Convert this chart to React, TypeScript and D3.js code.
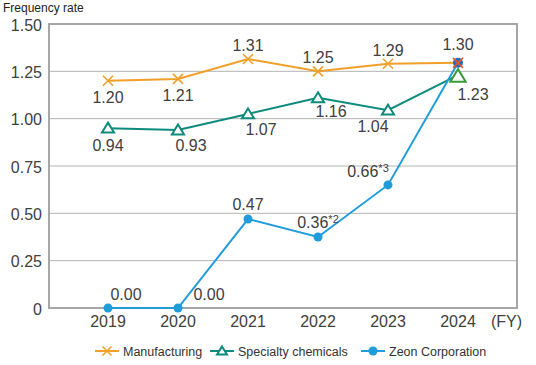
import { useEffect, useRef } from "react"
import * as d3 from "d3"

const years = ["2019", "2020", "2021", "2022", "2023", "2024"]
const yTicks = [0, 0.25, 0.5, 0.75, 1.0, 1.25, 1.5]

const manufacturing = [1.2, 1.21, 1.315, 1.25, 1.29, 1.295]
const manufacturingLabels = ["1.20", "1.21", "1.31", "1.25", "1.29", "1.30"]

const specialty = [0.95, 0.94, 1.025, 1.11, 1.045, 1.23]
const specialtyLabels = ["0.94", "0.93", "1.07", "1.16", "1.04", "1.23"]

const zeon = [0, 0, 0.47, 0.375, 0.65, 1.295]
const zeonLabels = ["0.00", "0.00", "0.47", "0.36", "0.66", ""]
const zeonNotes = ["", "", "", "*2", "*3", ""]

// label offsets relative to the point (dx, dy to baseline)
const manuOffsets = [[0, 22], [0, 22], [0, -8], [0, -8], [0, -8], [0, -13]]
const specOffsets = [[0, 23], [13, 21], [13, 21], [13, 19], [-15, 22], [15, 25]]
const zeonOffsets = [[18, -8], [31, -8], [0, -9], [0, -9], [-20, -8], [0, 0]]

const ORANGE = "#f0a02a"
const TEAL = "#0e8b7c"
const BLUE = "#1f9ddb"
const TEXT = "#404040"
const FONT = "'Liberation Sans', Arial, sans-serif"

export default function App() {
  const svgRef = useRef<SVGSVGElement>(null)

  useEffect(() => {
    if (!svgRef.current) return
    d3.select(svgRef.current).selectAll("*").remove()
    const svg = d3.select(svgRef.current)

    const left = 49
    const right = 517
    const top = 24
    const bottom = 308

    const x = d3.scalePoint<string>().domain(years).range([left, right]).padding(0.843)
    const y = d3.scaleLinear().domain([0, 1.5]).range([bottom, top])

    // gridlines
    svg.append("g")
      .selectAll("line")
      .data(yTicks.filter((t) => t > 0 && t < 1.5))
      .enter()
      .append("line")
      .attr("x1", left)
      .attr("x2", right)
      .attr("y1", (d) => y(d))
      .attr("y2", (d) => y(d))
      .attr("stroke", "#b4b4b4")
      .attr("stroke-width", 1)

    // frame
    svg.append("rect")
      .attr("x", left)
      .attr("y", top)
      .attr("width", right - left)
      .attr("height", bottom - top)
      .attr("fill", "none")
      .attr("stroke", "#a6a6a6")
      .attr("stroke-width", 2)

    // y axis labels
    svg.append("g")
      .selectAll("text")
      .data(yTicks)
      .enter()
      .append("text")
      .attr("x", 42)
      .attr("y", (d) => y(d) + 6.5)
      .attr("text-anchor", "end")
      .style("font-size", "16px")
      .style("font-family", FONT)
      .style("fill", TEXT)
      .text((d) => (d === 0 ? "0" : d.toFixed(2)))

    // x axis labels
    svg.append("g")
      .selectAll("text")
      .data(years)
      .enter()
      .append("text")
      .attr("x", (d) => x(d) || 0)
      .attr("y", 327)
      .attr("text-anchor", "middle")
      .style("font-size", "16px")
      .style("font-family", FONT)
      .style("fill", TEXT)
      .text((d) => d)

    svg.append("text")
      .attr("x", 491)
      .attr("y", 327)
      .style("font-size", "16px")
      .style("font-family", FONT)
      .style("fill", TEXT)
      .text("(FY)")

    svg.append("text")
      .attr("x", 3)
      .attr("y", 12)
      .style("font-size", "12px")
      .style("font-family", FONT)
      .style("fill", "#222")
      .text("Frequency rate")

    const line = d3
      .line<number>()
      .x((_, i) => x(years[i]) || 0)
      .y((d) => y(d))

    const drawLine = (vals: number[], color: string) => {
      svg.append("path")
        .datum(vals)
        .attr("fill", "none")
        .attr("stroke", color)
        .attr("stroke-width", 2)
        .attr("d", line)
    }

    const cross = (g: any, cx: number, cy: number, color: string, s = 5) => {
      g.append("path")
        .attr("d", `M${cx - s},${cy - s}L${cx + s},${cy + s}M${cx - s},${cy + s}L${cx + s},${cy - s}`)
        .attr("stroke", color)
        .attr("stroke-width", 1.6)
        .attr("fill", "none")
    }
    const tri = (g: any, cx: number, cy: number, color: string, s = 5.5, fill = "#fff") => {
      g.append("path")
        .attr("d", `M${cx},${cy - s}L${cx + s * 1.1},${cy + s * 0.8}L${cx - s * 1.1},${cy + s * 0.8}Z`)
        .attr("stroke", color)
        .attr("stroke-width", 2)
        .attr("fill", fill)
    }
    const dot = (g: any, cx: number, cy: number, color: string, r = 4.5) => {
      g.append("circle").attr("cx", cx).attr("cy", cy).attr("r", r).attr("fill", color)
    }

    drawLine(specialty, TEAL)
    drawLine(manufacturing, ORANGE)
    drawLine(zeon, BLUE)

    const marks = svg.append("g")
    specialty.forEach((v, i) => {
      if (i === years.length - 1) tri(marks, x(years[i]) || 0, y(v) + 1, "#3a9a3a", 7, "#fff")
      else tri(marks, x(years[i]) || 0, y(v), TEAL)
    })
    manufacturing.forEach((v, i) => {
      if (i < years.length - 1) cross(marks, x(years[i]) || 0, y(v), ORANGE)
    })
    zeon.forEach((v, i) => {
      if (i === years.length - 1) dot(marks, x(years[i]) || 0, y(v), "#1f6fb8", 5)
      else dot(marks, x(years[i]) || 0, y(v), BLUE)
    })
    const last = years.length - 1
    cross(marks, x(years[last]) || 0, y(manufacturing[last]), "#e4572e", 5)

    // data labels
    const labelG = svg.append("g")
      .style("font-size", "16px")
      .style("font-family", FONT)
      .style("fill", TEXT)
    const addLabels = (vals: number[], labels: string[], offs: number[][], notes?: string[]) => {
      vals.forEach((v, i) => {
        if (!labels[i]) return
        const t = labelG.append("text")
          .attr("x", (x(years[i]) || 0) + offs[i][0])
          .attr("y", y(v) + offs[i][1])
          .attr("text-anchor", "middle")
        t.append("tspan").text(labels[i])
        if (notes && notes[i]) {
          t.append("tspan")
            .attr("dy", -5)
            .style("font-size", "11px")
            .text(notes[i])
        }
      })
    }
    addLabels(manufacturing, manufacturingLabels, manuOffsets)
    addLabels(specialty, specialtyLabels, specOffsets)
    addLabels(zeon, zeonLabels, zeonOffsets, zeonNotes)

    // legend
    const legendItems = [
      { name: "Manufacturing", color: ORANGE, kind: "x", x0: 95 },
      { name: "Specialty chemicals", color: TEAL, kind: "t", x0: 210 },
      { name: "Zeon Corporation", color: BLUE, kind: "o", x0: 361 },
    ]
    const ly = 351
    legendItems.forEach((it) => {
      svg.append("line")
        .attr("x1", it.x0)
        .attr("x2", it.x0 + 24)
        .attr("y1", ly)
        .attr("y2", ly)
        .attr("stroke", it.color)
        .attr("stroke-width", 2)
      const cx = it.x0 + 12
      if (it.kind === "x") cross(svg, cx, ly, it.color, 4.5)
      if (it.kind === "t") tri(svg, cx, ly, it.color, 4.5)
      if (it.kind === "o") dot(svg, cx, ly, it.color, 4.5)
      svg.append("text")
        .attr("x", it.x0 + 28)
        .attr("y", ly + 4.5)
        .style("font-size", "12.5px")
        .style("font-family", FONT)
        .style("fill", "#333")
        .text(it.name)
    })
  }, [])

  return (
    <svg
      ref={svgRef}
      width={536}
      height={365}
      style={{ position: "absolute", left: 0, top: 0, background: "#fff" }}
    />
  )
}
